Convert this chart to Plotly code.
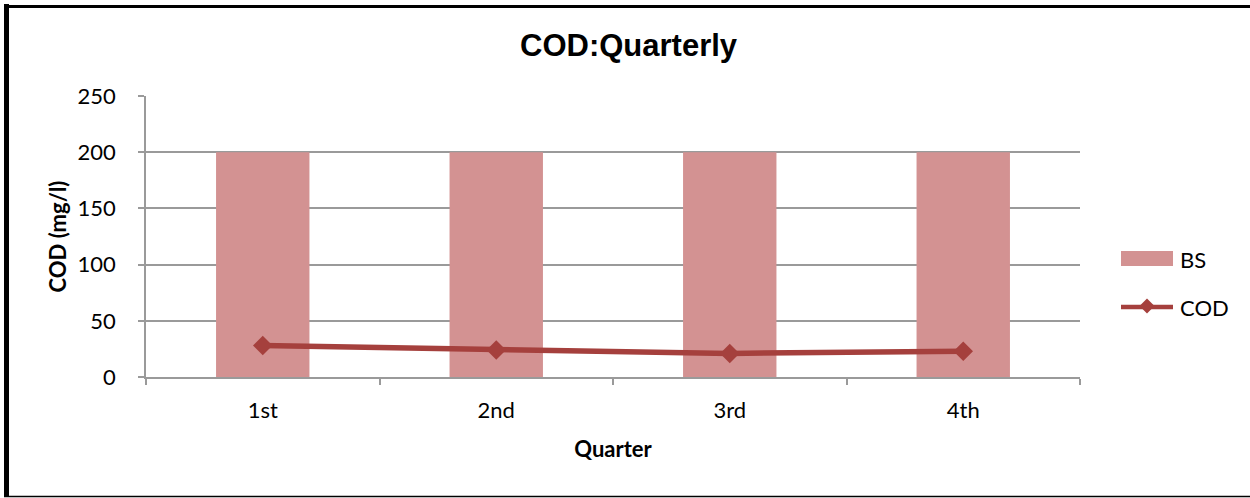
import plotly.graph_objects as go

# Quarterly COD readings against the BS limit
quarters = ["1st", "2nd", "3rd", "4th"]
bs_limit = [200, 200, 200, 200]
cod_values = [28, 24, 21, 23]
y_ticks = [0, 50, 100, 150, 200, 250]

W, H = 1250, 498
L, R, T, B = 146, 1080, 96, 377  # plot area edges in pixels

BAR_COLOR = "#D39292"
LINE_COLOR = "#A5403D"
GRID = "#9A9A9A"
TXT_FONT = "Lato"
TITLE_FONT = "Liberation Sans"


def px_x(p):
    return (p - L) / (R - L)


def px_y(p):
    return (B - p) / (B - T)


fig = go.Figure()
fig.add_trace(go.Bar(x=quarters, y=bs_limit, name="BS", marker_color=BAR_COLOR,
                     marker_line_width=0, width=0.4))
fig.add_trace(go.Scatter(x=quarters, y=cod_values, name="COD", mode="lines+markers",
                         line=dict(color=LINE_COLOR, width=5.5),
                         marker=dict(symbol="diamond", size=15, color=LINE_COLOR)))

shapes = []
# outer frame
shapes.append(dict(type="line", xref="paper", yref="paper", x0=px_x(6.5), x1=px_x(6.5),
                   y0=px_y(4), y1=px_y(497), line=dict(color="black", width=5)))
shapes.append(dict(type="line", xref="paper", yref="paper", x0=px_x(4), x1=px_x(1252),
                   y0=px_y(6.5), y1=px_y(6.5), line=dict(color="black", width=3)))
shapes.append(dict(type="line", xref="paper", yref="paper", x0=px_x(4), x1=px_x(1252),
                   y0=px_y(496.5), y1=px_y(496.5), line=dict(color="black", width=1.5)))

# legend swatches
shapes.append(dict(type="rect", xref="paper", yref="paper", x0=px_x(1121), x1=px_x(1173),
                   y0=px_y(266), y1=px_y(251), fillcolor=BAR_COLOR, line=dict(width=0)))
shapes.append(dict(type="line", xref="paper", yref="paper", x0=px_x(1121), x1=px_x(1173),
                   y0=px_y(307), y1=px_y(307), line=dict(color=LINE_COLOR, width=4.5)))
cx, cy, hw = 1147, 306, 7.5
shapes.append(dict(type="path", xref="paper", yref="paper",
                   path=f"M {px_x(cx - hw)} {px_y(cy)} L {px_x(cx)} {px_y(cy - hw)} "
                        f"L {px_x(cx + hw)} {px_y(cy)} L {px_x(cx)} {px_y(cy + hw)} Z",
                   fillcolor=LINE_COLOR, line=dict(width=0)))

annotations = [
    dict(text="BS", xref="paper", yref="paper", x=px_x(1178), y=px_y(259), xanchor="left",
         yanchor="middle", showarrow=False, font=dict(family=TXT_FONT, size=22, color="black")),
    dict(text="COD", xref="paper", yref="paper", x=px_x(1178), y=px_y(307), xanchor="left",
         yanchor="middle", showarrow=False, font=dict(family=TXT_FONT, size=22, color="black")),
    dict(text="<b>COD:Quarterly</b>", xref="paper", yref="paper", x=px_x(629), y=px_y(45),
         xanchor="center", yanchor="middle", showarrow=False,
         font=dict(family=TITLE_FONT, size=31, color="black")),
]

fig.update_layout(
    width=W, height=H,
    margin=dict(l=L, r=W - R, t=T, b=H - B, pad=0),
    paper_bgcolor="white", plot_bgcolor="white",
    showlegend=False,
    bargap=0.6,
    xaxis=dict(
        type="category", range=[-0.5, 3.5], showgrid=False,
        showline=True, linecolor=GRID, linewidth=1.5,
        ticks="outside", tickson="boundaries", ticklen=6, tickcolor=GRID, tickwidth=1.5,
        tickfont=dict(family=TXT_FONT, size=22, color="black"),
        ticklabelstandoff=13,
        title=dict(text="<b>Quarter</b>", standoff=19,
                   font=dict(family=TXT_FONT, size=22, color="black")),
    ),
    yaxis=dict(
        range=[0, 250], tickvals=y_ticks, showgrid=True, gridcolor=GRID, gridwidth=1.5,
        zeroline=False, showline=True, linecolor=GRID, linewidth=1.5,
        ticks="outside", ticklen=6, tickcolor=GRID, tickwidth=1.5,
        tickfont=dict(family=TXT_FONT, size=22, color="black"),
        ticklabelstandoff=18,
        title=dict(text="<b>COD (mg/l)</b>", standoff=5,
                   font=dict(family=TXT_FONT, size=22, color="black")),
    ),
    shapes=shapes,
    annotations=annotations,
)

fig.write_html("out.html")
